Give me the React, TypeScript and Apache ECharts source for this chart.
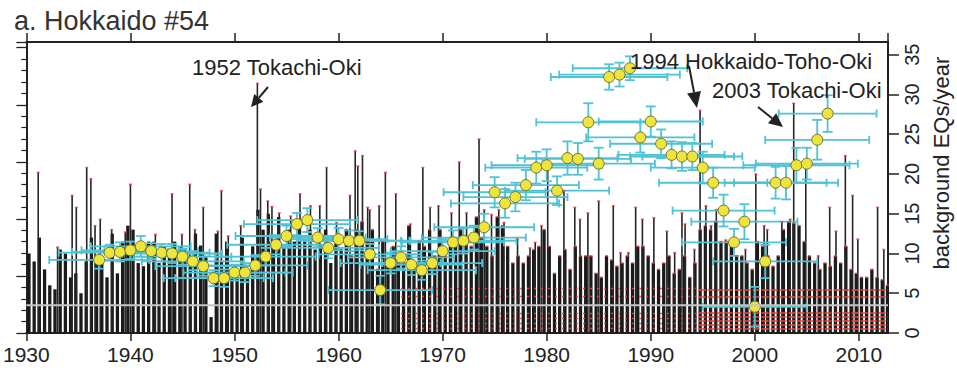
import React, { useEffect, useRef } from "react";
import * as echarts from "echarts";

// ---------- axis ranges / ticks ----------
const X_MIN = 1930;
const X_MAX = 2012.8;
const Y_MAX = 36.6; // right axis: background EQs/year
const LEFT_MAX = 25.5; // left (unlabelled) count axis

// ---------- background histogram (half-year bins starting 1930.0) ----------
const BIN_START = 1930.25;
const BIN_STEP = 0.5;
const floorValues = [
  10, 9, 12, 8, 6, 5.5, 10.5, 10, 7, 7.5,
  5, 9, 12, 9.7, 8.8, 7, 12.5, 7.5, 11.5, 13.5,
  13, 8.8, 8.4, 11.5, 11.5, 8.8, 10.9, 9.7, 11.5, 10.9,
  10.5, 9.7, 12.5, 11, 9.7, 2, 12.5, 9, 11.5, 7,
  7.5, 12, 8, 10.9, 15.5, 13, 15, 11.5, 14.6, 10.9,
  13, 11.5, 14, 11.5, 13, 10.5, 11, 13, 8.8, 11.5,
  10.5, 13, 9.7, 13, 14, 11.5, 13, 8, 11.5, 8.8,
  10.9, 8.8, 8.8, 13.5, 8.8, 11.5, 10.9, 13, 9.7, 13,
  9.7, 11.5, 10.9, 13, 11.5, 10.9, 14.6, 12, 10.9, 9.7,
  14.6, 13.5, 10.9, 8.8, 9.7, 8.8, 9.7, 10.5, 10.9, 13,
  10.9, 7.5, 9.7, 10.5, 8, 10.9, 9.7, 9.7, 9.7, 7.5,
  7, 9.7, 9.2, 8.4, 8.8, 9.7, 8.8, 10.9, 10.9, 9.7,
  8.8, 8, 8.8, 9.7, 7.5, 8, 9.7, 7, 8.8, 13,
  13.5, 13, 14, 11.5, 11.5, 10.9, 9.7, 9.7, 8.8, 8,
  11.5, 10.9, 9.7, 8.4, 9.7, 13, 14, 13.8, 13.5, 11.5,
  9.7, 8.8, 8, 8.8, 8.4, 9.7, 8.8, 10.9, 8, 7.5,
  7, 7, 8, 7, 6.7, 6,
];

// individual tall spikes [year, value]
const spikeYears = [
  1931.14, 1933.0, 1934.4, 1934.8, 1935.8, 1936.2, 1936.6, 1937.1, 1938.2, 1939.5,
  1940.0, 1942.4, 1944.0, 1944.95, 1945.7, 1946.2, 1947.0, 1948.4, 1948.74, 1949.4,
  1950.6, 1952.2, 1952.5, 1953.2, 1953.6, 1954.3, 1955.4, 1956.3, 1957.3, 1958.2,
  1958.85, 1959.8, 1961.1, 1961.6, 1961.85, 1962.3, 1962.8, 1963.0, 1963.9, 1964.5,
  1965.5, 1966.9, 1968.1, 1968.8, 1969.6, 1970.85, 1971.6, 1972.3, 1973.5, 1974.0,
  1974.7, 1975.4, 1975.9, 1977.2, 1978.4, 1978.9, 1979.5, 1980.1, 1981.66, 1982.7,
  1983.2, 1983.96, 1985.0, 1986.4, 1987.1, 1987.85, 1988.55, 1989.2, 1990.3, 1991.55,
  1992.3, 1993.0, 1993.3, 1994.2, 1994.74, 1995.3, 1995.8, 1996.3, 1997.2, 1999.1,
  2000.1, 2000.9, 2001.2, 2002.6, 2003.4, 2003.74, 2004.9, 2006.1, 2007.2, 2007.8,
  2008.7, 2009.4, 2009.9, 2011.8, 2012.4,
];
const spikeValues = [
  20.2, 10.8, 17.3, 15.8, 20.8, 19.4, 13.5, 14.3, 13, 12.7,
  18.7, 12.4, 17.5, 12.4, 18.7, 13, 15.8, 12.8, 17.9, 12.2,
  13.5, 31.4, 18.1, 16.6, 15.9, 15.1, 14.7, 17.5, 16, 16,
  20.8, 13.9, 17.3, 22.9, 21, 22.3, 15.8, 15.5, 16, 20.2,
  17.5, 13.7, 20.8, 15.8, 16, 15.1, 21.5, 15.1, 24.4, 15.5,
  14.9, 15.5, 13.9, 11.8, 10.7, 11.4, 13.5, 20.6, 17.9, 15.8,
  14.3, 15.1, 16.6, 16, 10.1, 10.1, 15.8, 14.3, 14.5, 12.8,
  10.1, 15.1, 13.7, 10.5, 28, 16, 13.5, 15.5, 11.7, 10.5,
  20, 13.5, 13, 14, 14.3, 28.9, 21.5, 9.7, 15.8, 12.8,
  22.3, 17.3, 11.8, 15.8, 10.5,
];

// ---------- background rate estimates (yellow points) ----------
const rateYears = [
  1937, 1938, 1939, 1940, 1941, 1942, 1943, 1944, 1945, 1946,
  1947, 1948, 1949, 1950, 1951, 1952, 1953, 1954, 1955, 1956,
  1957, 1958, 1959, 1960, 1961, 1962, 1963, 1964, 1965, 1966,
  1967, 1968, 1969, 1970, 1971, 1972, 1973, 1974, 1975, 1976,
  1977, 1978, 1979, 1980, 1981, 1982, 1983, 1984, 1985, 1986,
  1987, 1988, 1989, 1990, 1991, 1992, 1993, 1994, 1995, 1996,
  1997, 1998, 1999, 2000, 2001, 2002, 2003, 2004, 2005, 2006,
  2007,
];
const rateValues = [
  9.2, 10.1, 10.2, 10.4, 10.9, 10.3, 10.1, 10.0, 9.6, 9.0,
  8.4, 6.9, 6.9, 7.6, 7.6, 8.5, 9.6, 11.1, 12.2, 13.7,
  14.2, 12.0, 10.7, 11.8, 11.6, 11.6, 9.9, 5.4, 8.8, 9.5,
  8.6, 7.9, 8.8, 10.3, 11.4, 11.6, 12.0, 13.3, 17.7, 16.3,
  17.1, 18.6, 20.8, 21.1, 17.9, 22.0, 21.9, 26.5, 21.3, 32.2,
  32.5, 33.3, 24.6, 26.6, 23.8, 22.4, 22.2, 22.2, 20.8, 18.9,
  15.4, 11.4, 14.0, 3.3, 9.0, 18.9, 18.9, 21.1, 21.3, 24.3,
  27.6,
];
// half-width of the time window (years) and half-height of the rate uncertainty
const rateXErr = [
  4.8, 4.9, 4.6, 4.7, 4.8, 4.5, 4.6, 4.8, 4.7, 4.9,
  4.6, 4.8, 4.7, 4.9, 4.6, 5.0, 4.8, 4.7, 4.9, 5.1,
  4.8, 4.6, 4.9, 4.7, 5.0, 4.8, 4.9, 5.0, 4.8, 5.1,
  4.9, 5.2, 4.8, 5.0, 4.9, 5.1, 5.0, 4.8, 4.9, 5.2,
  5.0, 5.1, 4.9, 5.3, 5.0, 4.8, 5.1, 5.0, 5.4, 5.6,
  5.8, 5.5, 5.2, 5.0, 4.9, 5.1, 5.0, 4.8, 5.0, 5.2,
  4.9, 5.0, 5.1, 5.0, 5.0, 4.9, 5.0, 5.1, 4.9, 5.0,
  4.7,
];
const rateYErr = [
  1.1, 1.0, 1.2, 1.1, 1.3, 1.0, 1.1, 1.2, 1.0, 1.1,
  1.2, 1.0, 1.1, 1.0, 1.2, 1.3, 1.1, 1.2, 1.3, 1.4,
  1.5, 1.2, 1.3, 1.4, 1.3, 1.2, 1.3, 1.8, 1.3, 1.4,
  1.3, 1.2, 1.4, 1.5, 1.5, 1.6, 1.5, 1.7, 1.9, 1.8,
  1.8, 1.9, 2.0, 2.0, 1.8, 2.1, 2.0, 2.4, 2.0, 1.6,
  1.5, 1.5, 1.9, 1.9, 1.8, 1.7, 1.8, 1.7, 2.0, 1.9,
  2.0, 1.7, 2.2, 2.5, 2.1, 2.0, 2.1, 2.2, 2.0, 2.5,
  2.3,
];

// reference level and red catalogue-row marks
const REF_LEVEL = 3.5;
const redRowsEarly = [0.6, 1.2, 1.8, 2.5, 4.6, 5.6];
const redRowsLate = [0.5, 1.0, 1.5, 2.0, 2.6, 4.5, 5.5];
const RED_EARLY_RANGE = [1966, 1994.6];
const RED_LATE_RANGE = [1994.6, 2012.8];

const FONT = "Liberation Sans, Arial, Helvetica, sans-serif";
const CYAN = "#4ec3d6";
const DARK = "#222222";

export default function App() {
  const ref = useRef<HTMLDivElement>(null);

  useEffect(() => {
    if (!ref.current) return;
    const chart = echarts.init(ref.current, undefined, { renderer: "svg" });

    const baseData = floorValues.map((v, i) => [BIN_START + i * BIN_STEP, v]);
    const spikeData = spikeYears.map((y, i) => [y, spikeValues[i]]);
    const pointData = rateYears.map((y, i) => [y, rateValues[i], rateXErr[i], rateYErr[i]]);
    const redTops = [...baseData.filter((d) => d[0] > 1960), ...spikeData];

    const barRender = (w: number, color: string) => (params: any, api: any) => {
      const x = api.value(0);
      const v = api.value(1);
      const top = api.coord([x, v]);
      const bot = api.coord([x, 0]);
      return {
        type: "rect",
        shape: { x: top[0] - w / 2, y: top[1], width: w, height: bot[1] - top[1] },
        style: { fill: color },
      };
    };

    const rows = (vals: number[], range: number[]) =>
      vals.map((v) => ({ coords: [[range[0], v], [range[1], v]] }));

    const axisLineStyle = { color: DARK, width: 2 };

    chart.setOption({
      animation: false,
      grid: { left: 14, right: 69, top: 42, bottom: 38, containLabel: false },
      xAxis: [
        {
          type: "value",
          position: "bottom",
          min: X_MIN,
          max: X_MAX,
          interval: 10,
          axisLine: { show: true, lineStyle: axisLineStyle },
          axisTick: { show: true, length: 8, lineStyle: { color: DARK, width: 1.5 } },
          axisLabel: {
            show: true,
            color: DARK,
            fontSize: 21,
            fontFamily: FONT,
            margin: 11,
            showMaxLabel: false,
            formatter: (v: number) => (v % 10 === 0 ? String(v) : ""),
          },
          splitLine: { show: false },
        },
        {
          type: "value",
          position: "top",
          min: X_MIN,
          max: X_MAX,
          interval: 10,
          axisLine: { show: true, onZero: false, lineStyle: axisLineStyle },
          axisTick: { show: true, length: 9, lineStyle: { color: DARK, width: 1.5 } },
          axisLabel: { show: false },
          splitLine: { show: false },
        },
      ],
      yAxis: [
        {
          type: "value",
          position: "right",
          min: 0,
          max: Y_MAX,
          interval: 5,
          axisLine: { show: true, lineStyle: axisLineStyle },
          axisTick: { show: true, length: 11, lineStyle: { color: DARK, width: 1.5 } },
          axisLabel: {
            show: true,
            rotate: 90,
            color: DARK,
            fontSize: 20,
            fontFamily: FONT,
            margin: 14,
            showMaxLabel: false,
            formatter: (v: number) => (v % 5 === 0 ? String(v) : ""),
          },
          splitLine: { show: false },
        },
        {
          type: "value",
          position: "left",
          min: 0,
          max: LEFT_MAX,
          interval: 5,
          axisLine: { show: true, onZero: false, lineStyle: axisLineStyle },
          axisTick: { show: true, length: 10, lineStyle: { color: DARK, width: 1.3 } },
          minorTick: { show: true, splitNumber: 5, length: 5, lineStyle: { color: DARK, width: 1.2 } },
          axisLabel: { show: false },
          splitLine: { show: false },
          minorSplitLine: { show: false },
        },
      ],
      graphic: [
        {
          type: "text",
          left: 14,
          top: 7,
          style: { text: "a. Hokkaido #54", fontSize: 27, fontFamily: FONT, fill: "#333333" },
        },
        {
          type: "text",
          x: 941,
          y: 163,
          rotation: Math.PI / 2,
          style: {
            text: "background EQs/year",
            fontSize: 22,
            fontFamily: FONT,
            fill: DARK,
            align: "center",
            verticalAlign: "middle",
          },
        },
        {
          type: "text",
          x: 192,
          y: 67,
          style: { text: "1952 Tokachi-Oki", fontSize: 22, fontFamily: FONT, fill: DARK, verticalAlign: "middle" },
          z: 100,
        },
        {
          type: "text",
          x: 630,
          y: 61,
          style: { text: "1994 Hokkaido-Toho-Oki", fontSize: 22, fontFamily: FONT, fill: DARK, verticalAlign: "middle" },
          z: 100,
        },
        {
          type: "text",
          x: 712,
          y: 90,
          style: { text: "2003 Tokachi-Oki", fontSize: 22, fontFamily: FONT, fill: DARK, verticalAlign: "middle" },
          z: 100,
        },
        // arrows
        { type: "line", shape: { x1: 268, y1: 87, x2: 258.8, y2: 97.9 }, style: { stroke: DARK, lineWidth: 2 }, z: 100 },
        { type: "polygon", shape: { points: [[251, 107], [263.4, 101.8], [254.2, 94.0]] }, style: { fill: DARK }, z: 100 },
        { type: "line", shape: { x1: 689, y1: 66, x2: 694, y2: 92.3 }, style: { stroke: DARK, lineWidth: 2 }, z: 100 },
        { type: "polygon", shape: { points: [[697, 108], [700.9, 91.0], [687.1, 93.6]] }, style: { fill: DARK }, z: 100 },
        { type: "line", shape: { x1: 758, y1: 107, x2: 772.1, y2: 118.3 }, style: { stroke: DARK, lineWidth: 2 }, z: 100 },
        { type: "polygon", shape: { points: [[783, 127], [776.2, 113.2], [768.0, 123.3]] }, style: { fill: DARK }, z: 100 },
      ],
      series: [
        {
          type: "custom",
          name: "histogram",
          xAxisIndex: 0,
          yAxisIndex: 0,
          renderItem: barRender(3.3, "#1a1a1a"),
          encode: { x: 0, y: 1 },
          data: baseData,
          clip: true,
          silent: true,
        },
        {
          type: "custom",
          name: "spikes",
          xAxisIndex: 0,
          yAxisIndex: 0,
          renderItem: barRender(1.6, "#262626"),
          encode: { x: 0, y: 1 },
          data: spikeData,
          clip: true,
          silent: true,
        },
        {
          type: "scatter",
          name: "tops",
          symbol: "rect",
          symbolSize: [3, 1.6],
          itemStyle: { color: "#f03c3c" },
          data: redTops,
          silent: true,
        },
        {
          type: "lines",
          coordinateSystem: "cartesian2d",
          lineStyle: { color: "#e8403a", width: 1.4, type: [2, 5], opacity: 0.9 },
          data: rows(redRowsEarly, RED_EARLY_RANGE),
          silent: true,
        },
        {
          type: "lines",
          coordinateSystem: "cartesian2d",
          lineStyle: { color: "#f0463a", width: 1.6, type: [7, 2], opacity: 1 },
          data: rows(redRowsLate, RED_LATE_RANGE),
          silent: true,
        },
        {
          type: "line",
          name: "reference",
          symbol: "none",
          lineStyle: { color: "#c4c4c4", width: 2 },
          data: [[X_MIN, REF_LEVEL], [X_MAX, REF_LEVEL]],
          silent: true,
        },
        {
          type: "custom",
          name: "errorbars",
          xAxisIndex: 0,
          yAxisIndex: 0,
          encode: { x: 0, y: 1 },
          data: pointData,
          renderItem: (params: any, api: any) => {
            const x = api.value(0);
            const y = api.value(1);
            const xe = api.value(2);
            const ye = api.value(3);
            const c = api.coord([x, y]);
            const l = api.coord([x - xe, y]);
            const r = api.coord([x + xe, y]);
            const t = api.coord([x, y + ye]);
            const b = api.coord([x, y - ye]);
            const style = { stroke: CYAN, lineWidth: 1.8 };
            const seg = (x1: number, y1: number, x2: number, y2: number) => ({
              type: "line",
              shape: { x1, y1, x2, y2 },
              style,
            });
            return {
              type: "group",
              children: [
                seg(l[0], c[1], r[0], c[1]),
                seg(l[0], c[1] - 4, l[0], c[1] + 4),
                seg(r[0], c[1] - 4, r[0], c[1] + 4),
                seg(c[0], t[1], c[0], b[1]),
                seg(c[0] - 5, t[1], c[0] + 5, t[1]),
                seg(c[0] - 5, b[1], c[0] + 5, b[1]),
              ],
            };
          },
          silent: true,
        },
        {
          type: "scatter",
          name: "rate",
          symbol: "circle",
          symbolSize: 11,
          itemStyle: { color: "#ede43c", borderColor: "#74742c", borderWidth: 1, opacity: 1 },
          data: pointData.map((d) => [d[0], d[1]]),
          silent: true,
        },
      ],
    });

    return () => chart.dispose();
  }, []);

  return (
    <div
      ref={ref}
      style={{ position: "absolute", left: 0, top: 0, width: 957, height: 371 }}
    />
  );
}
